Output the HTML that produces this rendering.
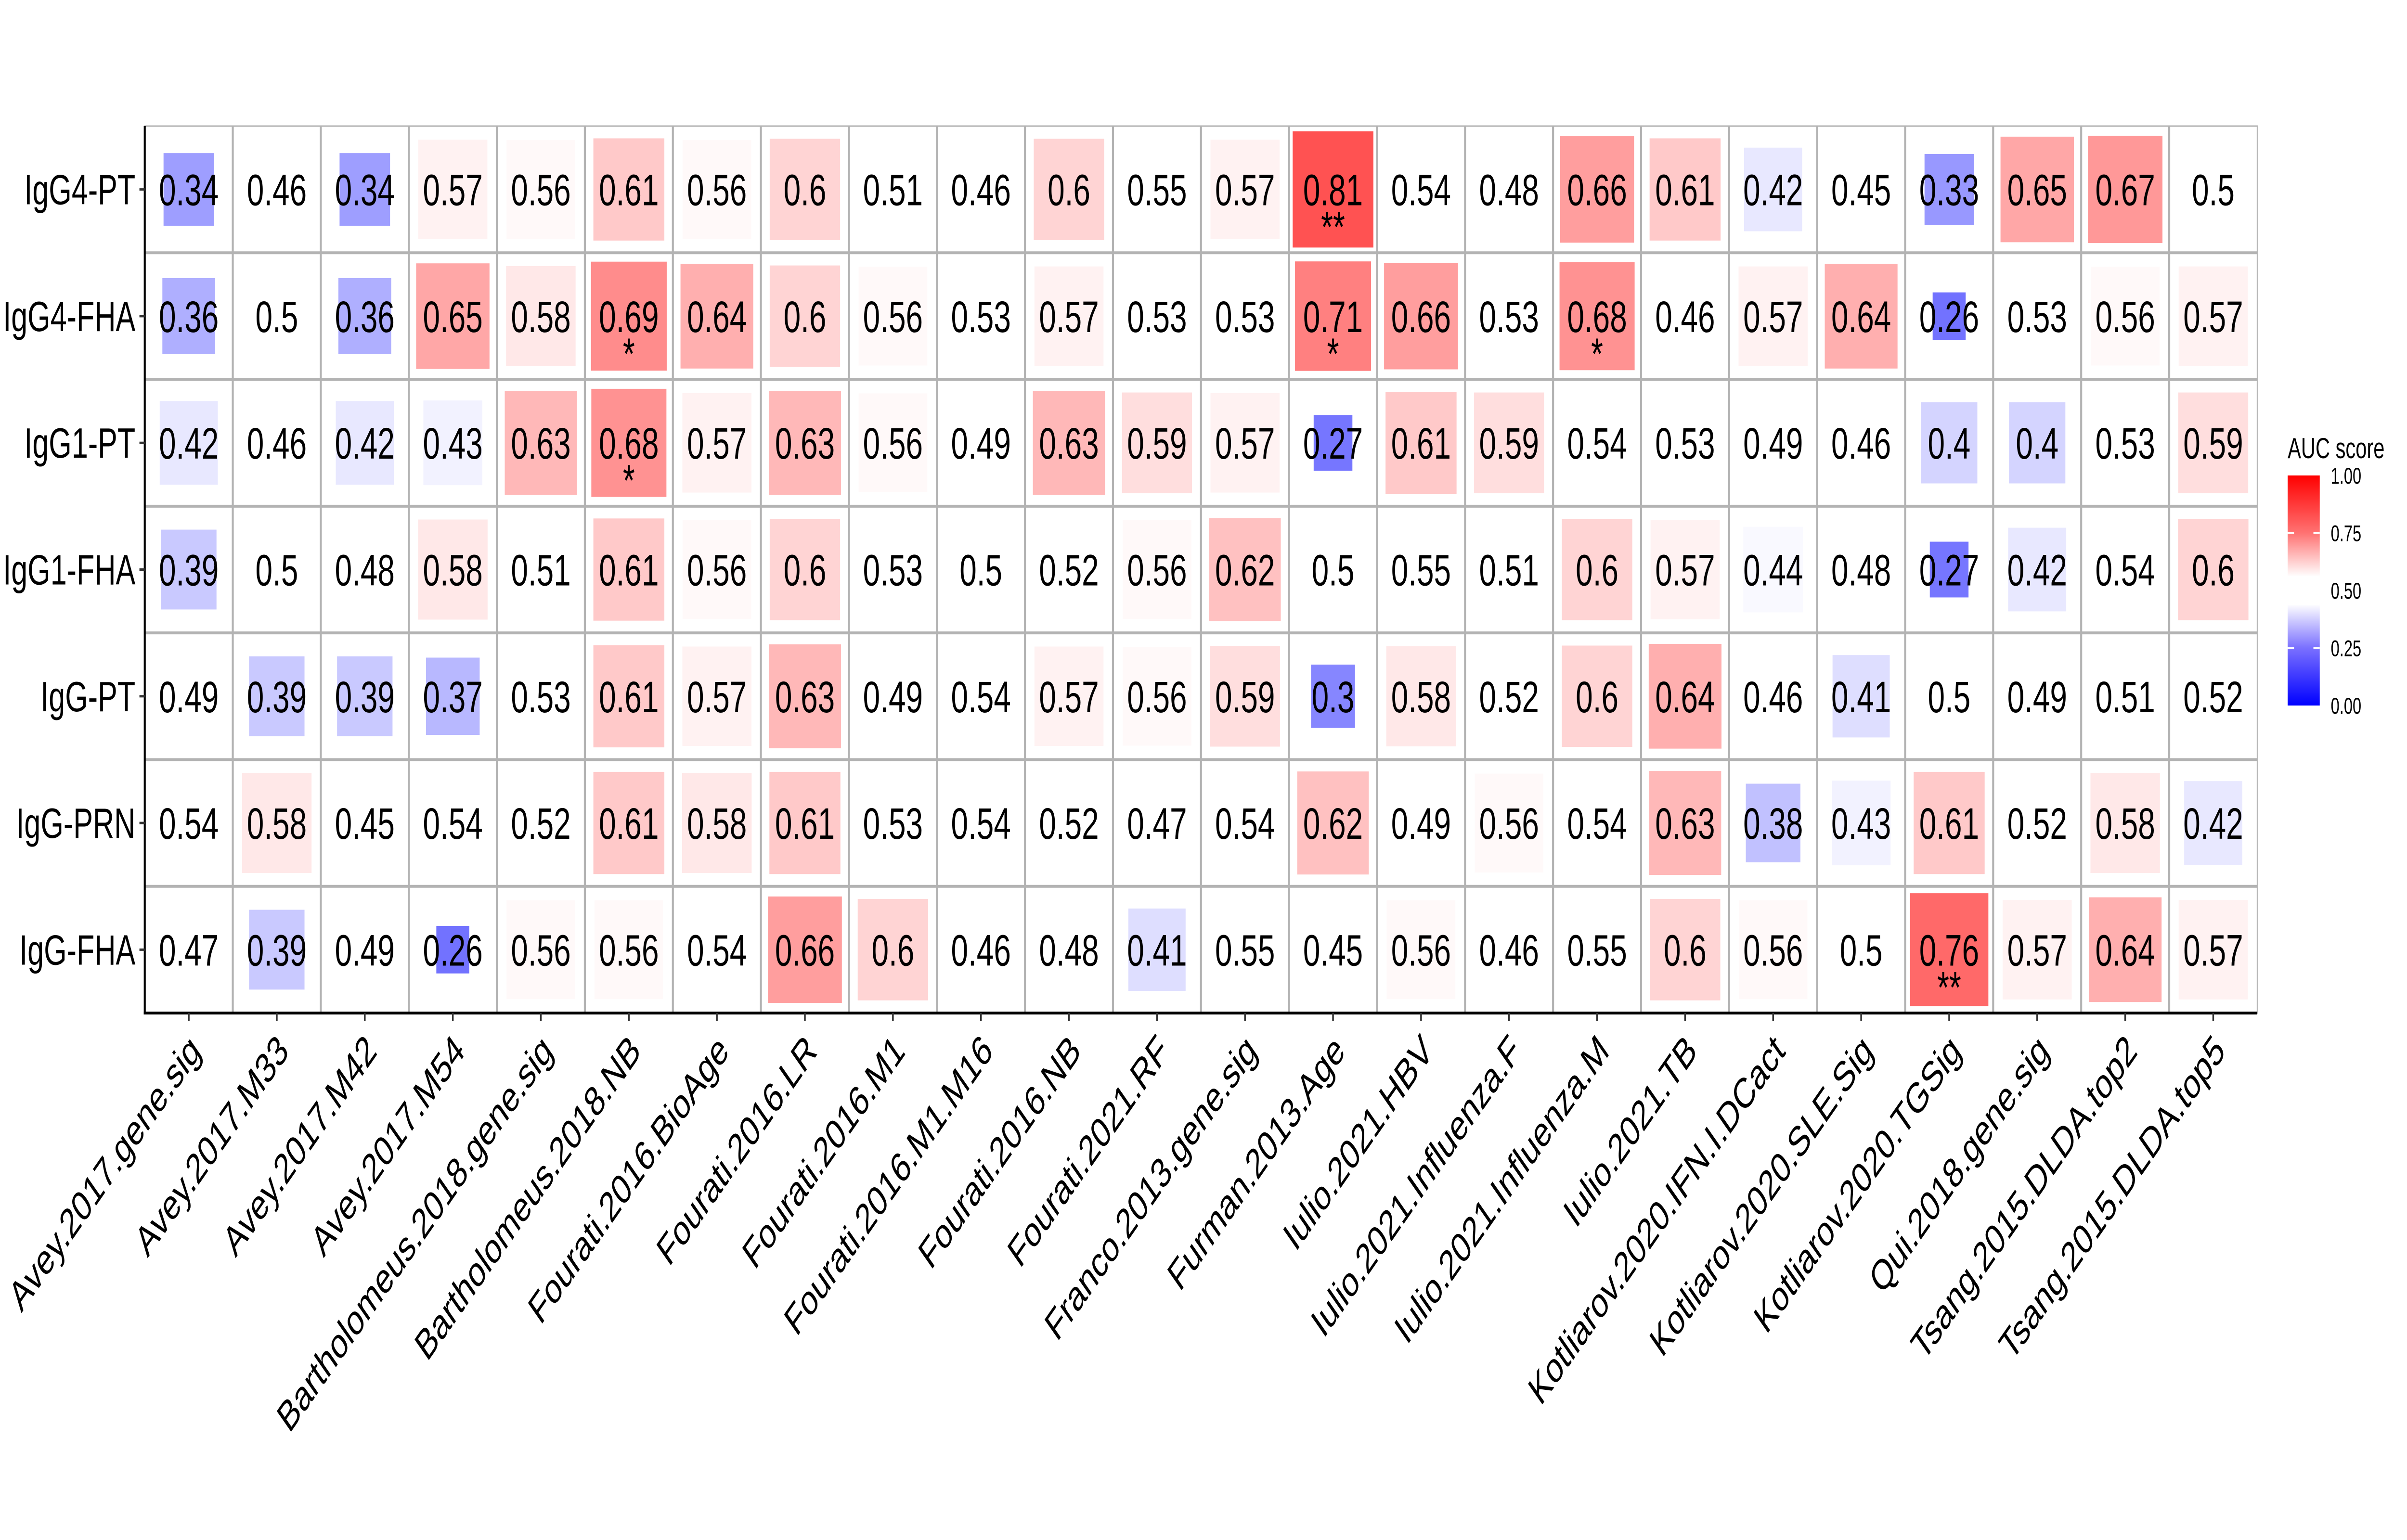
<!DOCTYPE html>
<html><head><meta charset="utf-8"><style>
html,body{margin:0;padding:0;background:#fff;overflow:hidden;width:100vw;height:100vh;}
svg{display:block;width:100vw;height:100vh;font-family:"Liberation Sans",Arial,sans-serif;}
</style></head><body>
<svg id="chart" viewBox="0 0 7200 3200" preserveAspectRatio="none" xmlns="http://www.w3.org/2000/svg">
<defs>
<linearGradient id="legGrad" x1="0" y1="1" x2="0" y2="0">
<stop offset="0" stop-color="#0000ff"/>
<stop offset="0.25" stop-color="#7a70ff"/>
<stop offset="0.44" stop-color="#ffffff"/>
<stop offset="0.56" stop-color="#ffffff"/>
<stop offset="0.75" stop-color="#ff7272"/>
<stop offset="1" stop-color="#ff0000"/>
</linearGradient>
</defs>
<rect x="0" y="0" width="7200" height="3200" fill="#fff"/>
<g id="tiles"></g>
<g id="grid"></g>
<g id="labels"></g>
<g id="axes"></g>
<g id="legend">
<text x="6843" y="952" font-size="60">AUC score</text>
<rect x="6843" y="988" width="96" height="478" fill="url(#legGrad)"/>
</g>
</svg>
<script>
const columns = ["Avey.2017.gene.sig","Avey.2017.M33","Avey.2017.M42","Avey.2017.M54","Bartholomeus.2018.gene.sig","Bartholomeus.2018.NB","Fourati.2016.BioAge","Fourati.2016.LR","Fourati.2016.M1","Fourati.2016.M1.M16","Fourati.2016.NB","Fourati.2021.RF","Franco.2013.gene.sig","Furman.2013.Age","Iulio.2021.HBV","Iulio.2021.Influenza.F","Iulio.2021.Influenza.M","Iulio.2021.TB","Kotliarov.2020.IFN.I.DCact","Kotliarov.2020.SLE.Sig","Kotliarov.2020.TGSig","Qui.2018.gene.sig","Tsang.2015.DLDA.top2","Tsang.2015.DLDA.top5"];
const rows = ["IgG4-PT","IgG4-FHA","IgG1-PT","IgG1-FHA","IgG-PT","IgG-PRN","IgG-FHA"];
const aucIgG4PT  = [0.34,0.46,0.34,0.57,0.56,0.61,0.56,0.6,0.51,0.46,0.6,0.55,0.57,0.81,0.54,0.48,0.66,0.61,0.42,0.45,0.33,0.65,0.67,0.5];
const aucIgG4FHA = [0.36,0.5,0.36,0.65,0.58,0.69,0.64,0.6,0.56,0.53,0.57,0.53,0.53,0.71,0.66,0.53,0.68,0.46,0.57,0.64,0.26,0.53,0.56,0.57];
const aucIgG1PT  = [0.42,0.46,0.42,0.43,0.63,0.68,0.57,0.63,0.56,0.49,0.63,0.59,0.57,0.27,0.61,0.59,0.54,0.53,0.49,0.46,0.4,0.4,0.53,0.59];
const aucIgG1FHA = [0.39,0.5,0.48,0.58,0.51,0.61,0.56,0.6,0.53,0.5,0.52,0.56,0.62,0.5,0.55,0.51,0.6,0.57,0.44,0.48,0.27,0.42,0.54,0.6];
const aucIgGPT   = [0.49,0.39,0.39,0.37,0.53,0.61,0.57,0.63,0.49,0.54,0.57,0.56,0.59,0.3,0.58,0.52,0.6,0.64,0.46,0.41,0.5,0.49,0.51,0.52];
const aucIgGPRN  = [0.54,0.58,0.45,0.54,0.52,0.61,0.58,0.61,0.53,0.54,0.52,0.47,0.54,0.62,0.49,0.56,0.54,0.63,0.38,0.43,0.61,0.52,0.58,0.42];
const aucIgGFHA  = [0.47,0.39,0.49,0.26,0.56,0.56,0.54,0.66,0.6,0.46,0.48,0.41,0.55,0.45,0.56,0.46,0.55,0.6,0.56,0.5,0.76,0.57,0.64,0.57];
const sigIgG4PT  = ["","","","","","","","","","","","","","**","","","","","","","","","",""];
const sigIgG4FHA = ["","","","","","*","","","","","","","","*","","","*","","","","","","",""];
const sigIgG1PT  = ["","","","","","*","","","","","","","","","","","","","","","","","",""];
const sigIgG1FHA = ["","","","","","","","","","","","","","","","","","","","","","","",""];
const sigIgGPT   = ["","","","","","","","","","","","","","","","","","","","","","","",""];
const sigIgGPRN  = ["","","","","","","","","","","","","","","","","","","","","","","",""];
const sigIgGFHA  = ["","","","","","","","","","","","","","","","","","","","","**","","",""];
const legendTicks = [0, 0.25, 0.5, 0.75, 1];
const legendTickLabels = ["0.00","0.25","0.50","0.75","1.00"];

const values = [aucIgG4PT,aucIgG4FHA,aucIgG1PT,aucIgG1FHA,aucIgGPT,aucIgGPRN,aucIgGFHA];
const stars = [sigIgG4PT,sigIgG4FHA,sigIgG1PT,sigIgG1FHA,sigIgGPT,sigIgGPRN,sigIgGFHA];

const NS = "http://www.w3.org/2000/svg";
const X0 = 433, X1 = 6752, Y0 = 262, Y1 = 2105;
const cw = (X1 - X0) / columns.length, rh = (Y1 - Y0) / rows.length;
function xCenter(i){ return X0 + cw * (i + 0.5); }
function yCenter(j){ return Y0 + rh * (j + 0.5); }
function interp(xs, ys, x){
  if (x <= xs[0]) return ys[0];
  for (let k = 1; k < xs.length; k++) if (x <= xs[k]) return ys[k-1] + (ys[k]-ys[k-1]) * (x - xs[k-1]) / (xs[k]-xs[k-1]);
  return ys[ys.length-1];
}
function colorFor(v){
  const t = Math.abs(v - 0.5) * 2;
  const i = interp([0,0.1,0.14,0.22,0.32,0.42,0.62,1],[0,0,0.05,0.21,0.38,0.5,0.68,1], t);
  const c = Math.round(255 * (1 - i));
  return v >= 0.5 ? `rgb(255,${c},${c})` : `rgb(${c},${c},255)`;
}
function sizeFor(v){
  return interp([0.2,0.26,0.27,0.33,0.36,0.42,0.56,0.6,0.69,0.71,0.81,1],[0.3,0.375,0.44,0.56,0.6,0.66,0.78,0.8,0.86,0.864,0.917,0.95], v);
}
function mk(tag, attrs, parent){
  const e = document.createElementNS(NS, tag);
  for (const k in attrs) e.setAttribute(k, attrs[k]);
  parent.appendChild(e);
  return e;
}
const gT = document.getElementById("tiles"), gG = document.getElementById("grid"), gL = document.getElementById("labels"), gA = document.getElementById("axes"), gLeg = document.getElementById("legend");

const border = mk("rect",{x:X0,y:Y0,width:X1-X0,height:Y1-Y0,fill:"none",stroke:"#b3b3b3","stroke-width":3},gG);


for (let i = 1; i < columns.length; i++){
  const l = mk("line",{x1:X0+cw*i,x2:X0+cw*i,y1:Y0,y2:Y1,stroke:"#b3b3b3","stroke-width":6},gG);
  
  
}
for (let j = 1; j < rows.length; j++){
  const l = mk("line",{x1:X0,x2:X1,y1:Y0+rh*j,y2:Y0+rh*j,stroke:"#b3b3b3","stroke-width":6},gG);
  
  
}

rows.forEach((rn, j) => {
  columns.forEach((cn, i) => {
    const v = values[j][i];
    const s = sizeFor(v);
    const cx = xCenter(i), cy = yCenter(j);
    const r = mk("rect",{x:cx - cw*s/2, y:cy - rh*s/2, width:cw*s, height:rh*s, fill:colorFor(v)},gT);
    
    
    const t = mk("text",{x:cx, y:cy + 33, "font-size":92, "text-anchor":"middle", fill:"#000"},gL);
    t.textContent = String(v);
    
    
    if (stars[j][i]){
      const st = mk("text",{x:cx, y:cy + 110, "font-size":92, "text-anchor":"middle", fill:"#000"},gL);
      st.textContent = stars[j][i];
      
      
    }
  });
});

const ya = mk("line",{x1:X0,x2:X0,y1:Y0,y2:Y1+3,stroke:"#000","stroke-width":6},gA);


const xa = mk("line",{x1:X0-3,x2:X1,y1:Y1,y2:Y1,stroke:"#000","stroke-width":6},gA);


rows.forEach((rn, j) => {
  const cy = yCenter(j);
  const tk = mk("line",{x1:X0-16,x2:X0,y1:cy,y2:cy,stroke:"#333","stroke-width":5},gA);
  
  
  const t = mk("text",{x:X0-28, y:cy + 31, "font-size":88, "text-anchor":"end", fill:"#000"},gA);
  t.textContent = rn;
  
  
});
columns.forEach((cn, i) => {
  const cx = xCenter(i);
  const tk = mk("line",{x1:cx,x2:cx,y1:Y1,y2:Y1+16,stroke:"#333","stroke-width":5},gA);
  
  
  const ax = cx + 40, ay = 2188;
  const t = mk("text",{x:ax, y:ay, "font-size":88, "text-anchor":"end", fill:"#000", transform:`rotate(-45 ${ax} ${ay})`},gA);
  t.textContent = cn;
  
  
});

const LB = 1466, LT = 988;
legendTicks.forEach((v, k) => {
  const y = LB - (LB - LT) * v;
  if (v > 0 && v < 1){
    const a = mk("line",{x1:6843,x2:6862,y1:y,y2:y,stroke:"#fff","stroke-width":3},gLeg);
    
    
    const b = mk("line",{x1:6920,x2:6939,y1:y,y2:y,stroke:"#fff","stroke-width":3},gLeg);
    
    
  }
  const t = mk("text",{x:6972, y:y + 17, "font-size":47, fill:"#000"},gLeg);
  t.textContent = legendTickLabels[k];
  
  
});
</script>
</body></html>
